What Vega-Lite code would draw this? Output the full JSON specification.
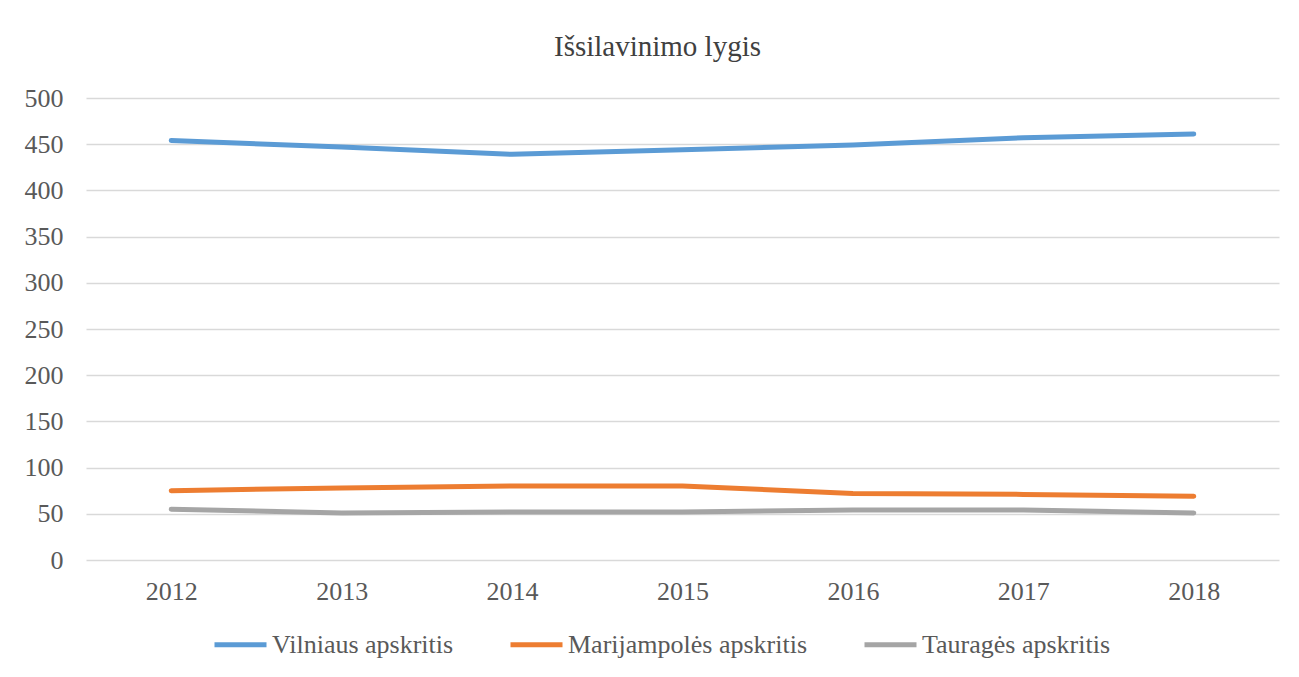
{
  "$schema": "https://vega.github.io/schema/vega-lite/v6.json",
  "autosize": {"type": "none"},
  "width": 1193,
  "height": 462,
  "padding": {"left": 86, "top": 98, "right": 20, "bottom": 117},
  "background": "white",
  "title": {
    "text": "Išsilavinimo lygis",
    "font": "Liberation Serif",
    "fontSize": 29,
    "fontWeight": "normal",
    "color": "#404040",
    "anchor": "middle",
    "baseline": "alphabetic",
    "dx": -25,
    "offset": 0
  },
  "data": {
    "values": [
      {"year": "2012", "region": "Vilniaus apskritis", "value": 454},
      {"year": "2013", "region": "Vilniaus apskritis", "value": 447},
      {"year": "2014", "region": "Vilniaus apskritis", "value": 439},
      {"year": "2015", "region": "Vilniaus apskritis", "value": 444},
      {"year": "2016", "region": "Vilniaus apskritis", "value": 449},
      {"year": "2017", "region": "Vilniaus apskritis", "value": 457},
      {"year": "2018", "region": "Vilniaus apskritis", "value": 461},
      {"year": "2012", "region": "Marijampolės apskritis", "value": 75},
      {"year": "2013", "region": "Marijampolės apskritis", "value": 78},
      {"year": "2014", "region": "Marijampolės apskritis", "value": 80},
      {"year": "2015", "region": "Marijampolės apskritis", "value": 80},
      {"year": "2016", "region": "Marijampolės apskritis", "value": 72},
      {"year": "2017", "region": "Marijampolės apskritis", "value": 71},
      {"year": "2018", "region": "Marijampolės apskritis", "value": 69},
      {"year": "2012", "region": "Tauragės apskritis", "value": 55},
      {"year": "2013", "region": "Tauragės apskritis", "value": 51},
      {"year": "2014", "region": "Tauragės apskritis", "value": 52},
      {"year": "2015", "region": "Tauragės apskritis", "value": 52},
      {"year": "2016", "region": "Tauragės apskritis", "value": 54},
      {"year": "2017", "region": "Tauragės apskritis", "value": 54},
      {"year": "2018", "region": "Tauragės apskritis", "value": 51}
    ]
  },
  "mark": {"type": "line", "strokeWidth": 5, "strokeCap": "round", "strokeJoin": "round"},
  "encoding": {
    "x": {
      "field": "year",
      "type": "ordinal",
      "scale": {"type": "point", "padding": 0.5},
      "axis": {
        "title": null,
        "labelAngle": 0,
        "ticks": false,
        "domain": false,
        "grid": false,
        "labelPadding": 18,
        "labelFont": "Liberation Serif",
        "labelFontSize": 26,
        "labelColor": "#595959"
      }
    },
    "y": {
      "field": "value",
      "type": "quantitative",
      "scale": {"domain": [0, 500], "nice": false},
      "axis": {
        "title": null,
        "values": [0, 50, 100, 150, 200, 250, 300, 350, 400, 450, 500],
        "ticks": false,
        "domain": false,
        "grid": true,
        "gridColor": "#d9d9d9",
        "gridWidth": 1.5,
        "labelPadding": 23,
        "labelFont": "Liberation Serif",
        "labelFontSize": 26,
        "labelColor": "#595959"
      }
    },
    "color": {
      "field": "region",
      "type": "nominal",
      "sort": ["Vilniaus apskritis", "Marijampolės apskritis", "Tauragės apskritis"],
      "scale": {
        "domain": ["Vilniaus apskritis", "Marijampolės apskritis", "Tauragės apskritis"],
        "range": ["#5b9bd5", "#ed7d31", "#a5a5a5"]
      },
      "legend": {
        "title": null,
        "orient": "none",
        "direction": "horizontal",
        "legendX": 126,
        "legendY": 518,
        "symbolType": "stroke",
        "symbolSize": 2704,
        "symbolStrokeWidth": 5,
        "labelFont": "Liberation Serif",
        "labelFontSize": 26,
        "labelColor": "#595959",
        "labelOffset": 3,
        "labelLimit": 500,
        "columnPadding": 46
      }
    }
  },
  "config": {
    "view": {"stroke": null}
  }
}
